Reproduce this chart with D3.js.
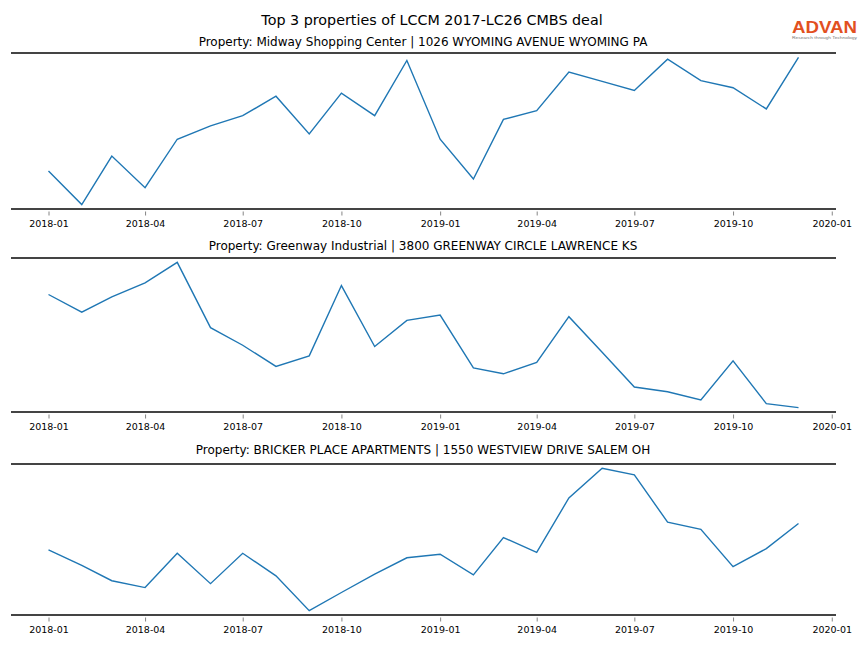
<!DOCTYPE html>
<html>
<head>
<meta charset="utf-8">
<script src="https://cdn.jsdelivr.net/npm/d3@7/dist/d3.min.js"></script>
<style>
  html, body { margin: 0; padding: 0; background: #fff; }
  svg { display: block; font-family: "DejaVu Sans", sans-serif; }
</style>
</head>
<body>
<svg id="chart" width="864" height="648"></svg>
<script>
// ---- Data ----
const months = ["2018-01","2018-02","2018-03","2018-04","2018-05","2018-06","2018-07","2018-08","2018-09","2018-10","2018-11","2018-12",
                "2019-01","2019-02","2019-03","2019-04","2019-05","2019-06","2019-07","2019-08","2019-09","2019-10","2019-11","2019-12"];
const tickLabels = ["2018-01","2018-04","2018-07","2018-10","2019-01","2019-04","2019-07","2019-10","2020-01"];
const chartTitle = "Top 3 properties of LCCM 2017-LC26 CMBS deal";
const propertyTitles = [
  "Property: Midway Shopping Center | 1026 WYOMING AVENUE WYOMING PA",
  "Property: Greenway Industrial | 3800 GREENWAY CIRCLE LAWRENCE KS",
  "Property: BRICKER PLACE APARTMENTS | 1550 WESTVIEW DRIVE SALEM OH"
];
const midwayValues = [39.3,6,54,22.7,70.7,84,94,113.3,76,116.3,94,148.7,70.7,31.3,90.3,99,137.3,128,119,150,128.7,121.7,100.7,151.7];
const greenwayValues = [120,102.3,117.7,131.7,152.3,86.7,69,47.7,58.3,129,67.7,94,99.3,46.3,40.3,51.7,97.7,62,27,22.3,14,53.3,10.3,6.3];
const brickerValues = [69.7,54,38.3,31.3,66.3,35.3,66.3,43.3,7.7,26.3,45,61.7,65.3,44.3,82.3,67.3,122.7,153,146.3,98,90.7,52.7,71,96.7];
const seriesList = [midwayValues, greenwayValues, brickerValues];

// ---- Layout ----
const svg = d3.select("#chart");
const parse = d3.timeParse("%Y-%m");
const dates = months.map(parse);
const left = 11, right = 836;
const panels = [
  {top: 53, bottom: 209, titleY: 46},
  {top: 258, bottom: 412, titleY: 250},
  {top: 464, bottom: 615, titleY: 454}
];

// x domain with matplotlib-like 5% margins
const t0 = dates[0].getTime(), t1 = dates[dates.length-1].getTime();
const xm = (t1 - t0) * 0.05;
const x = d3.scaleTime().domain([new Date(t0 - xm), new Date(t1 + xm)]).range([left, right]);
const tickDates = tickLabels.map(parse);

svg.append("text")
  .attr("x", 432).attr("y", 25)
  .attr("text-anchor", "middle")
  .attr("font-size", 14.3)
  .attr("fill", "#000")
  .text(chartTitle);

panels.forEach((p, i) => {
  const vals = seriesList[i];
  const [mn, mx] = d3.extent(vals);
  const pad = (mx - mn) * 0.03;
  const y = d3.scaleLinear().domain([mn - pad, mx + pad]).range([p.bottom, p.top]);
  const g = svg.append("g");

  g.append("text")
    .attr("x", 423).attr("y", p.titleY)
    .attr("text-anchor", "middle")
    .attr("font-size", 12)
    .attr("fill", "#000")
    .text(propertyTitles[i]);

  // spines
  [p.top, p.bottom].forEach(yy => {
    g.append("line")
      .attr("x1", left).attr("x2", right)
      .attr("y1", yy).attr("y2", yy)
      .attr("stroke", "#444").attr("stroke-width", 1.8);
  });

  // x axis
  const axis = d3.axisBottom(x)
    .tickValues(tickDates)
    .tickFormat(d3.timeFormat("%Y-%m"))
    .tickSize(4)
    .tickPadding(5);
  const ax = g.append("g").attr("transform", `translate(0,${p.bottom + 2.5})`).call(axis);
  ax.select(".domain").remove();
  ax.selectAll(".tick line").attr("stroke", "#666").attr("stroke-width", 0.8);
  ax.selectAll(".tick text").attr("font-size", 9.5).attr("fill", "#000")
    .attr("font-family", "DejaVu Sans, sans-serif");

  // line
  const line = d3.line().x((d, j) => x(dates[j])).y(d => y(d));
  g.append("path")
    .datum(vals)
    .attr("d", line)
    .attr("fill", "none")
    .attr("stroke", "#1f77b4")
    .attr("stroke-width", 1.4)
    .attr("stroke-linejoin", "miter");
});

// logo
const logo = svg.append("g");
logo.append("text")
  .attr("x", 792).attr("y", 32.5)
  .attr("font-size", 16.5)
  .attr("font-weight", "bold")
  .attr("font-family", "Liberation Sans, Arial, sans-serif")
  .attr("fill", "#e2501f")
  .attr("textLength", 65)
  .attr("lengthAdjust", "spacingAndGlyphs")
  .text("ADVAN");
logo.append("text")
  .attr("x", 792).attr("y", 39)
  .attr("font-size", 4.2)
  .attr("font-family", "Liberation Sans, Arial, sans-serif")
  .attr("fill", "#777")
  .attr("textLength", 65)
  .attr("lengthAdjust", "spacingAndGlyphs")
  .text("Research through Technology");
</script>
</body>
</html>
